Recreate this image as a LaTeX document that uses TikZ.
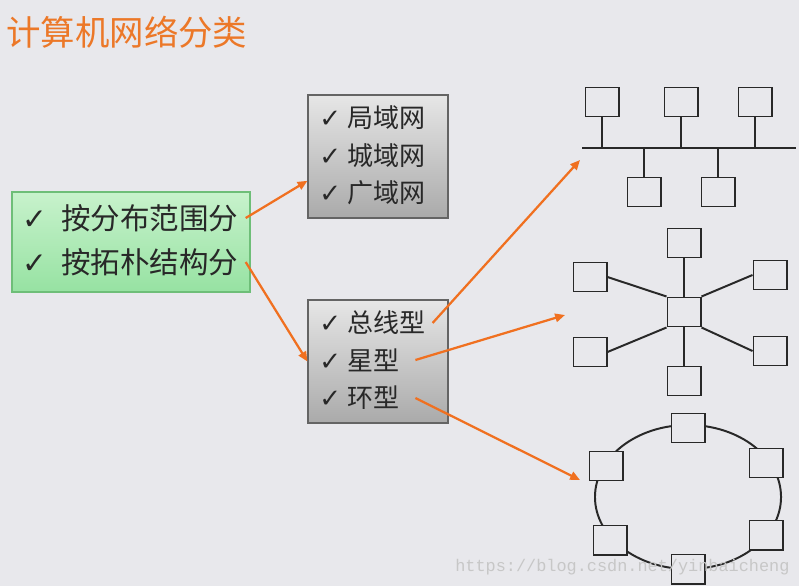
\documentclass[tikz,border=0pt]{standalone}
\usepackage{fontspec}
\usepackage{xcolor}
\usepackage{tikz}
\usetikzlibrary{arrows.meta, positioning, shapes.geometric}
\newfontfamily\cjk{Noto Sans CJK SC}
\newfontfamily\symfont{DejaVu Sans}
\newfontfamily\wmfont{Liberation Mono}
\definecolor{bgcolor}{RGB}{232, 232, 236}
\definecolor{titleorange}{RGB}{236, 120, 40}
\definecolor{arroworange}{RGB}{240, 112, 32}
\definecolor{textgray}{RGB}{40, 40, 40}
\definecolor{greenfillA}{RGB}{200, 242, 204}
\definecolor{greenfillB}{RGB}{150, 226, 162}
\definecolor{greenedge}{RGB}{110, 190, 120}
\definecolor{grayfillA}{RGB}{230, 230, 230}
\definecolor{grayfillB}{RGB}{170, 170, 170}
\definecolor{grayedge}{RGB}{100, 100, 100}
\definecolor{linegray}{RGB}{40, 40, 40}
\newcommand{\tick}{{\symfont ✓}}

\begin{document}
\begin{tikzpicture}[
    x=0.025cm, y=-0.025cm,
    greenbox/.style={rectangle, draw=greenedge, top color=greenfillA, bottom color=greenfillB, line width=0.8pt, inner sep=0pt, minimum width=5.95cm, minimum height=2.5cm},
    graybox/.style={rectangle, draw=grayedge, top color=grayfillA, bottom color=grayfillB, line width=0.8pt, inner sep=0pt, minimum width=3.5cm, minimum height=3.075cm},
    gline/.style={anchor=west, inner sep=0pt, text=textgray, font=\cjk\fontsize{21}{21}\selectfont},
    sline/.style={anchor=west, inner sep=0pt, text=textgray, font=\cjk\fontsize{18.5}{18.5}\selectfont},
    pc/.style={rectangle, draw=linegray, fill=bgcolor, line width=1.4pt, minimum width=0.825cm, minimum height=0.725cm, inner sep=0pt},
    wire/.style={draw=linegray, line width=1.4pt},
    arrow/.style={-{Triangle[length=7pt, width=6pt]}, line width=1.6pt, arroworange}
]
\useasboundingbox (0,0) rectangle (799,586);
\fill[bgcolor] (0,0) rectangle (799,586);

% Title
\node[anchor=west, inner sep=0pt, text=titleorange, font=\cjk\fontsize{24.5}{24.5}\selectfont] (title) at (6,32) {计算机网络分类};

% Main boxes
\node[greenbox] (kinds) at (131,242) {};
\node[gline] (range) at (22,218) {\tick\hspace{0.35cm}按分布范围分};
\node[gline] (struct) at (22,262) {\tick\hspace{0.35cm}按拓朴结构分};

\node[graybox] (scale) at (378,156.5) {};
\node[sline] (lan) at (319,118) {\tick\hspace{0.15cm}局域网};
\node[sline] (man) at (319,156) {\tick\hspace{0.15cm}城域网};
\node[sline] (wan) at (319,193) {\tick\hspace{0.15cm}广域网};

\node[graybox] (topo) at (378,361.5) {};
\node[sline] (busline) at (319,323) {\tick\hspace{0.15cm}总线型};
\node[sline] (starline) at (319,360) {\tick\hspace{0.15cm}星型};
\node[sline] (ringline) at (319,398) {\tick\hspace{0.15cm}环型};

% Bus
\coordinate (busL) at (582,148);
\coordinate (busR) at (796,148);
\draw[wire] (busL) -- (busR);
\node[pc] (b1) at (602,102) {};
\node[pc] (b2) at (681,102) {};
\node[pc] (b3) at (755,102) {};
\node[pc] (b4) at (644,192) {};
\node[pc] (b5) at (718,192) {};
\foreach \b in {b1,b2,b3,b4,b5}
    \draw[wire] (\b) -- (\b |- busL);
\foreach \b in {b1,b2,b3,b4,b5}
    \node[pc] at (\b) {};

% Star
\node[pc] (hub) at (684,312) {};
\node[pc] (s1) at (684,243) {};
\node[pc] (s2) at (684,381) {};
\node[pc] (s3) at (590,277) {};
\node[pc] (s4) at (590,352) {};
\node[pc] (s5) at (770,275) {};
\node[pc] (s6) at (770,351) {};
\draw[wire] (hub.north) -- (s1.south);
\draw[wire] (hub.south) -- (s2.north);
\draw[wire] (hub.north west) -- (s3.east);
\draw[wire] (hub.south west) -- (s4.east);
\draw[wire] (hub.north east) -- (s5.west);
\draw[wire] (hub.south east) -- (s6.west);

% Ring
\draw[wire] (688,497) ellipse [x radius=2.325cm, y radius=1.8cm];
\node[pc] (r1) at (688,428) {};
\node[pc] (r2) at (606,466) {};
\node[pc] (r3) at (766,463) {};
\node[pc] (r4) at (610,540) {};
\node[pc] (r5) at (766,535) {};
\node[pc] (r6) at (688,569) {};

% Arrows
\coordinate (toBus) at (580,160);
\coordinate (toStar) at (565,315);
\coordinate (toRing) at (580,480);
\draw[arrow] ([xshift=0.18cm]range.east) -- (scale.199);
\draw[arrow] ([xshift=0.18cm]struct.east) -- (topo.west);
\draw[arrow] ([xshift=0.18cm]busline.east) -- (toBus);
\draw[arrow] ([xshift=0.4cm]starline.east) -- (toStar);
\draw[arrow] ([xshift=0.4cm]ringline.east) -- (toRing);

% Watermark
\node[anchor=west, inner sep=0pt, text=black!22, font=\wmfont\fontsize{12}{12}\selectfont] (mark) at (455,567) {https://blog.csdn.net/yinbaicheng};
\end{tikzpicture}
\end{document}
